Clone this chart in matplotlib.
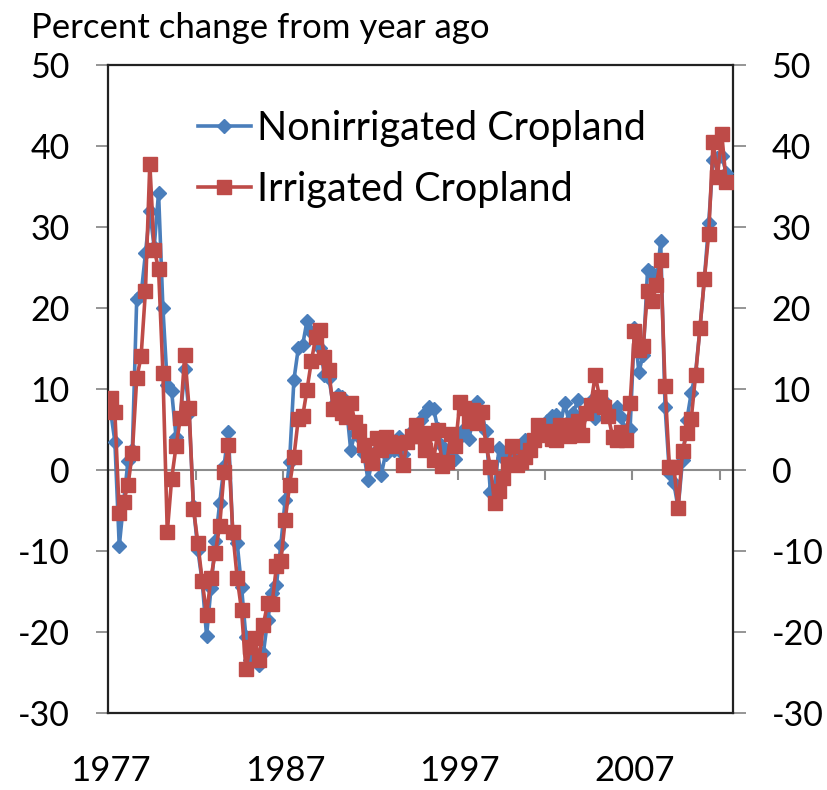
import matplotlib
matplotlib.use("Agg")
import matplotlib.pyplot as plt
import numpy as np

# quarterly, 1977Q1 onwards
nonirrigated = [7.3, 3.5, -9.4, -4.0, 1.1, 2.5, 21.1, 21.6, 26.8, 31.9,
                27.5, 34.2, 20.0, 10.5, 9.7, 4.1, 6.5, 12.4, 7.0, -4.5,
                -9.9, -13.8, -20.5, -14.6, -8.8, -4.1, 0.5, 4.7, -8.0, -9.0,
                -14.4, -20.6, -23.5, -23.0, -24.1, -22.6, -18.5, -15.2, -14.2, -9.3,
                -3.7, 1.0, 11.1, 15.0, 15.4, 18.4, 17.0, 16.5, 15.0, 11.7,
                11.4, 8.0, 9.3, 9.0, 8.0, 2.5, 4.5, 4.0, 2.0, -1.3,
                1.5, 2.5, -0.6, 2.0, 3.0, 2.5, 4.0, 2.0, 3.5, 4.8,
                5.0, 6.2, 7.0, 7.8, 7.5, 5.0, 3.0, 2.0, 1.5, 1.4,
                4.0, 5.0, 3.8, 6.0, 8.4, 7.0, 4.8, -2.7, -2.0, 2.7,
                1.5, 2.5, 1.0, 2.0, 3.0, 3.7, 3.0, 4.0, 5.0, 5.5,
                6.0, 6.6, 6.8, 5.5, 8.2, 6.0, 7.0, 8.6, 6.5, 7.0,
                8.5, 6.4, 8.0, 8.5, 7.5, 6.8, 7.8, 6.5, 4.9, 5.1,
                17.5, 12.1, 14.2, 24.7, 24.3, 23.0, 28.2, 7.8, -0.4, -1.6,
                -4.7, 1.2, 6.2, 9.5, 12.0, 17.5, 23.5, 30.5, 38.3, 38.5,
                38.7, 36.7]

irrigated = [8.9, 7.1, -5.3, -3.9, -1.9, 2.1, 11.3, 14.0, 22.1, 37.8,
             27.2, 24.8, 12.0, -7.7, -1.1, 2.9, 6.4, 14.2, 7.6, -4.8,
             -9.0, -13.7, -17.9, -13.3, -10.2, -6.9, -0.3, 3.1, -7.7, -13.3,
             -17.3, -24.6, -21.8, -20.7, -23.5, -19.1, -16.4, -16.5, -11.9, -11.3,
             -6.2, -1.9, 1.6, 6.3, 6.6, 9.9, 13.4, 16.4, 17.3, 13.9,
             12.3, 7.5, 8.7, 7.0, 6.5, 8.3, 5.9, 4.8, 3.1, 1.9,
             0.8, 3.9, 2.5, 4.1, 3.5, 2.9, 3.3, 0.6, 3.4, 4.2,
             5.5, 4.2, 2.5, 4.5, 1.2, 4.9, 0.5, 1.0, 4.4, 2.9,
             8.4, 7.6, 6.0, 7.4, 5.8, 7.2, 3.1, 0.4, -4.1, -2.6,
             -1.0, 0.7, 3.0, 0.6, 1.0, 1.6, 2.5, 3.7, 5.6, 4.3,
             4.8, 3.8, 3.7, 5.6, 5.4, 4.2, 5.6, 6.0, 4.3, 7.0,
             8.0, 11.7, 9.0, 7.8, 6.6, 4.1, 3.7, 4.7, 3.7, 8.2,
             17.1, 14.8, 15.3, 22.1, 20.8, 22.8, 25.9, 10.4, 0.4, 0.4,
             -4.7, 2.3, 4.6, 6.3, 11.7, 17.5, 23.5, 29.1, 40.5, 36.2,
             41.4, 35.5]

year_labels = ["1977", "1987", "1997", "2007"]
y_ticks = [-30, -20, -10, 0, 10, 20, 30, 40, 50]

plt.rcParams['font.family'] = ['Lato', 'DejaVu Sans']

quarters = np.arange(len(irrigated))
n_cat = len(irrigated) + 1

fig = plt.figure(figsize=(8.27, 7.90), dpi=100)
ax = fig.add_axes([0.131, 0.0975, 0.755, 0.8205])

ax.plot(quarters, nonirrigated, color='#4A7EBB', lw=2.6, marker='D', ms=7.5,
        label="Nonirrigated Cropland", zorder=3)
ax.plot(quarters, irrigated, color='#BE4B48', lw=2.6, marker='s', ms=10,
        label="Irrigated Cropland", zorder=4)

ax.set_xlim(-0.5, n_cat - 0.5)
ax.set_ylim(-30, 50)

# category axis crossing at zero, tick marks every 20 quarters
ax.axhline(0, color='#8c8c8c', lw=1.5, zorder=2)
bounds = np.arange(-0.5, n_cat, 20)
ax.vlines(bounds, -1.3, 0, color='#8c8c8c', lw=1.5, zorder=2)

ax.set_xticks(np.arange(0, len(irrigated), 40))
ax.set_xticklabels(year_labels, fontsize=25)
ax.tick_params(axis='x', length=0, pad=30)

ax.set_yticks(y_ticks)
ax.set_yticklabels([str(v) for v in y_ticks], fontsize=24.5)
ax.tick_params(axis='y', direction='out', length=9, width=1.3, color='#8c8c8c',
               pad=19, left=True, right=True, labelleft=True, labelright=True)

for s in ax.spines.values():
    s.set_color('#222222')
    s.set_linewidth(1.6)

ax.legend(loc='upper left', bbox_to_anchor=(0.143, 0.93), frameon=False,
          fontsize=28.5, handlelength=1.35, handletextpad=0.15, labelspacing=0.6,
          borderpad=0, borderaxespad=0)

fig.text(0.038, 0.965, "Percent change from year ago", fontsize=25, va='center', ha='left')

fig.savefig("out.png", dpi=100)
